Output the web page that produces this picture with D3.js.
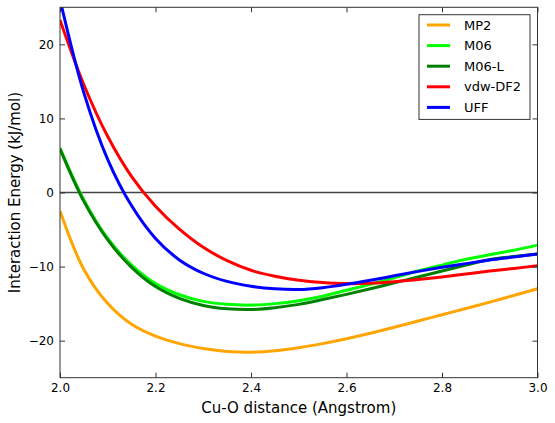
<!DOCTYPE html>
<html>
<head>
<meta charset="utf-8">
<script src="https://cdn.jsdelivr.net/npm/d3@7"></script>
<style>
  body { margin: 0; background: #fff; }
  svg { display: block; font-family: "DejaVu Sans", sans-serif; }
</style>
</head>
<body>
<svg id="chart" width="555" height="423"></svg>
<script>
const distances = [2.00, 2.05, 2.10, 2.15, 2.20, 2.25, 2.30, 2.35, 2.40, 2.45, 2.50, 2.55, 2.60, 2.65, 2.70, 2.75, 2.80, 2.85, 2.90, 2.95, 3.00];
const mp2    = [-2.5, -10.4, -15.0, -17.8, -19.4, -20.4, -21.05, -21.45, -21.55, -21.35, -20.95, -20.4, -19.75, -19.0, -18.2, -17.35, -16.5, -15.65, -14.8, -13.9, -13.0];
const m06    = [6.0, -1.0, -6.2, -9.8, -12.3, -13.8, -14.7, -15.1, -15.2, -15.0, -14.6, -14.0, -13.2, -12.4, -11.5, -10.6, -9.8, -9.0, -8.4, -7.8, -7.1];
const m06l   = [5.9, -1.2, -6.4, -10.1, -12.7, -14.3, -15.25, -15.7, -15.8, -15.55, -15.1, -14.45, -13.75, -13.0, -12.2, -11.4, -10.6, -9.8, -9.05, -8.65, -8.3];
const vdwdf2 = [23.3, 14.55, 7.55, 2.15, -1.85, -4.95, -7.4, -9.2, -10.5, -11.3, -11.85, -12.15, -12.3, -12.25, -12.05, -11.75, -11.4, -11.0, -10.6, -10.25, -9.9];
const uff    = [26.05, 13.45, 4.45, -1.8, -6.2, -9.1, -10.9, -12.0, -12.65, -13.0, -13.1, -12.85, -12.4, -11.85, -11.25, -10.65, -10.1, -9.6, -9.1, -8.7, -8.3];

const seriesNames = ["MP2", "M06", "M06-L", "vdw-DF2", "UFF"];
const seriesValues = [mp2, m06, m06l, vdwdf2, uff];
const seriesColors = ["#FFA500", "#00FF00", "#008000", "#FF0000", "#0000FF"];

const xTicks = [2.0, 2.2, 2.4, 2.6, 2.8, 3.0];
const yTicks = [-20, -10, 0, 10, 20];

const svg = d3.select("#chart");
const m = { left: 60, right: 537.5, top: 7.3, bottom: 377.7 };
const x = d3.scaleLinear().domain([2.0, 3.0]).range([m.left, m.right]);
const y = d3.scaleLinear().domain([-25, 25]).range([m.bottom, m.top]);

svg.append("defs").append("clipPath").attr("id", "clip")
  .append("rect").attr("x", m.left).attr("y", m.top)
  .attr("width", m.right - m.left).attr("height", m.bottom - m.top);

const plot = svg.append("g").attr("clip-path", "url(#clip)");

// zero line
plot.append("line")
  .attr("x1", m.left).attr("x2", m.right)
  .attr("y1", y(0)).attr("y2", y(0))
  .attr("stroke", "#444").attr("stroke-width", 1.3);

const line = d3.line().x((d, i) => x(distances[i])).y(d => y(d)).curve(d3.curveCatmullRom.alpha(0.5));

seriesValues.forEach((vals, k) => {
  plot.append("path")
    .datum(vals)
    .attr("d", line)
    .attr("fill", "none")
    .attr("stroke", seriesColors[k])
    .attr("stroke-width", 3);
});

const fmtX = d3.format(".1f");
const fmtY = d => d < 0 ? "\u2212" + Math.abs(d) : String(d);

// axes (ticks inside)
const axStyle = g => {
  g.select(".domain").remove();
  g.selectAll(".tick line").attr("stroke", "#333").attr("stroke-width", 1);
  g.selectAll(".tick text").attr("fill", "#000").style("font-size", "12px").style("font-family", "DejaVu Sans, sans-serif");
};
svg.append("g").attr("transform", `translate(0,${m.bottom})`)
  .call(d3.axisBottom(x).tickValues(xTicks).tickFormat(fmtX).tickSizeInner(-5).tickSizeOuter(0).tickPadding(6))
  .call(axStyle);
svg.append("g").attr("transform", `translate(0,${m.top})`)
  .call(d3.axisTop(x).tickValues(xTicks).tickFormat("").tickSizeInner(-5).tickSizeOuter(0))
  .call(axStyle);
svg.append("g").attr("transform", `translate(${m.left},0)`)
  .call(d3.axisLeft(y).tickValues(yTicks).tickFormat(fmtY).tickSizeInner(-5).tickSizeOuter(0).tickPadding(6))
  .call(axStyle);
svg.append("g").attr("transform", `translate(${m.right},0)`)
  .call(d3.axisRight(y).tickValues(yTicks).tickFormat("").tickSizeInner(-5).tickSizeOuter(0))
  .call(axStyle);

// frame
svg.append("rect")
  .attr("x", m.left).attr("y", m.top)
  .attr("width", m.right - m.left).attr("height", m.bottom - m.top)
  .attr("fill", "none").attr("stroke", "#333").attr("stroke-width", 1);

// axis titles
svg.append("text")
  .attr("x", (m.left + m.right) / 2).attr("y", 413)
  .attr("text-anchor", "middle").style("font-size", "15px")
  .text("Cu-O distance (Angstrom)");
svg.append("text")
  .attr("transform", `translate(20,${(m.top + m.bottom) / 2}) rotate(-90)`)
  .attr("text-anchor", "middle").style("font-size", "15px")
  .text("Interaction Energy (kJ/mol)");

// legend
const lg = svg.append("g");
lg.append("rect").attr("x", 419).attr("y", 14.7).attr("width", 111).attr("height", 104.7)
  .attr("fill", "#fff").attr("stroke", "#333").attr("stroke-width", 1);
seriesNames.forEach((name, k) => {
  const yy = 25 + k * 20.6;
  lg.append("line").attr("x1", 427).attr("x2", 450).attr("y1", yy).attr("y2", yy)
    .attr("stroke", seriesColors[k]).attr("stroke-width", 3);
  lg.append("text").attr("x", 464).attr("y", yy).attr("dy", "0.36em")
    .style("font-size", "13px").text(name);
});
</script>
</body>
</html>
